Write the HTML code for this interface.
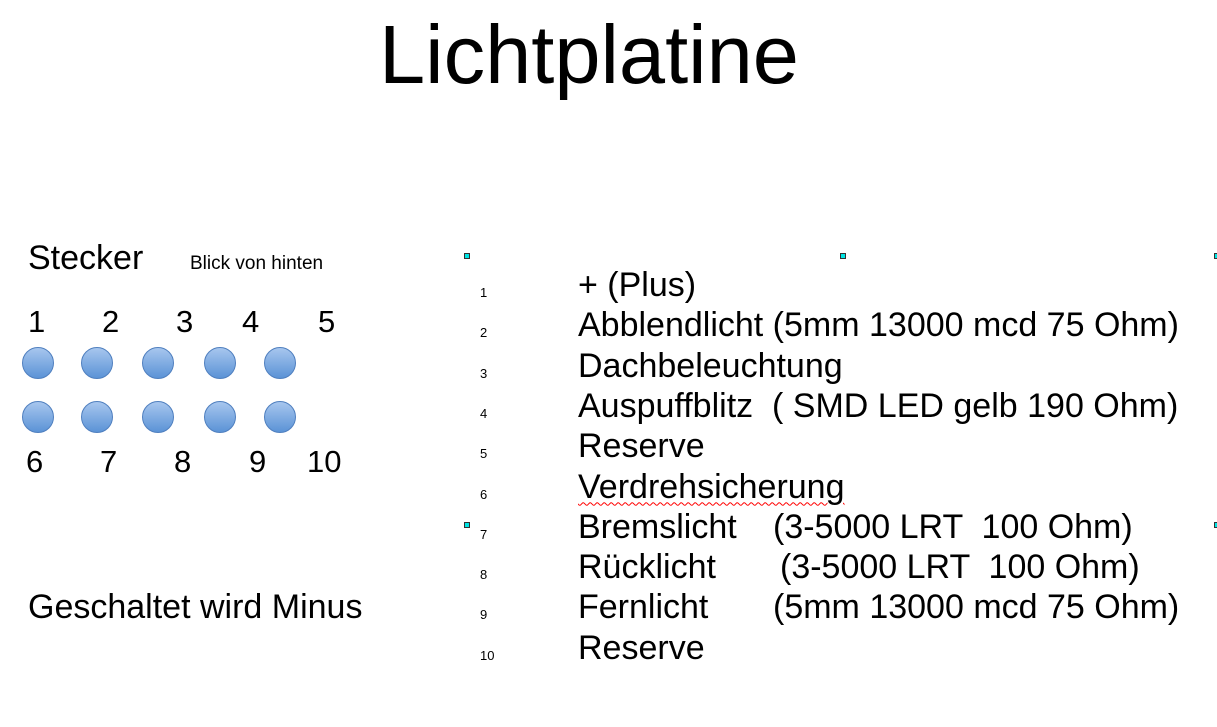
<!DOCTYPE html>
<html><head><meta charset="utf-8"><style>
body{margin:0;width:1217px;height:727px;background:#fff;position:relative;overflow:hidden;font-family:"Liberation Sans",sans-serif;color:#000}
.t{position:absolute;white-space:pre;line-height:1}
.b{font-size:34px}
.n{font-size:31px}
.s{font-size:13px}
.c{position:absolute;border-radius:50%;background:linear-gradient(#a7c6ee,#5b93d6);border:1px solid #4f7fbf;box-sizing:border-box}
.h{position:absolute;width:6px;height:6px;background:#00e5e5;border:1px solid #333;box-sizing:border-box}
</style></head><body>
<div class="t" style="left:379px;top:13px;font-size:83px">Lichtplatine</div>
<div class="t b" style="left:28px;top:241px">Stecker</div>
<div class="t" style="left:190px;top:254px;font-size:19px">Blick von hinten</div>
<div id="pins"></div>
<div class="t b" style="left:28px;top:590px">Geschaltet wird Minus</div>
<div class="h" style="left:464px;top:253px"></div>
<div class="h" style="left:840px;top:253px"></div>
<div class="h" style="left:1214px;top:253px"></div>
<div class="h" style="left:464px;top:522px"></div>
<div class="h" style="left:1214px;top:522px"></div>
<div id="list"></div>
<script>
const topNums=["1","2","3","4","5"], topX=[28,102,176,242,318];
const botNums=["6","7","8","9","10"], botX=[26,100,174,249,307];
const circX=[38,97,158,220,280];
const pins=document.getElementById('pins');
function mk(cls,txt,l,t,st){const d=document.createElement('div');d.className=cls;if(txt)d.textContent=txt;d.style.left=l+'px';d.style.top=t+'px';if(st)d.style.cssText+=st;pins.appendChild(d);return d;}
topNums.forEach((n,i)=>{const d=mk('t n',n,topX[i],306);

});
botNums.forEach((n,i)=>{const d=mk('t n',n,botX[i],446);

});
circX.forEach(x=>{[363,417].forEach(y=>{const d=mk('c','',x-16,y-16,'width:32px;height:32px');

});});
const items=["+ (Plus)","Abblendlicht (5mm 13000 mcd 75 Ohm)","Dachbeleuchtung","Auspuffblitz  ( SMD LED gelb 190 Ohm)","Reserve","Verdrehsicherung","Bremslicht","Rücklicht","Fernlicht","Reserve"];
const extras=["","","","","","","(3-5000 LRT  100 Ohm)","(3-5000 LRT  100 Ohm)","(5mm 13000 mcd 75 Ohm)",""];
const extraX=[0,0,0,0,0,0,773,780,773,0];
const list=document.getElementById('list');
items.forEach((txt,i)=>{const base=297+i*40.3;
const n=document.createElement('div');n.className='t s';n.textContent=String(i+1);n.style.left='480px';n.style.top=(base-11)+'px';


list.appendChild(n);
const d=document.createElement('div');d.className='t b';d.textContent=txt;d.style.left='578px';d.style.top=(base-29)+'px';
if(i===5){d.style.textDecoration='underline wavy red';d.style.textDecorationThickness='1px';d.style.textUnderlineOffset='4px';}


list.appendChild(d);
if(extras[i]){const e=document.createElement('div');e.className='t b';e.textContent=extras[i];e.style.left=extraX[i]+'px';e.style.top=(base-29)+'px';


list.appendChild(e);}
});
</script>
</body></html>
